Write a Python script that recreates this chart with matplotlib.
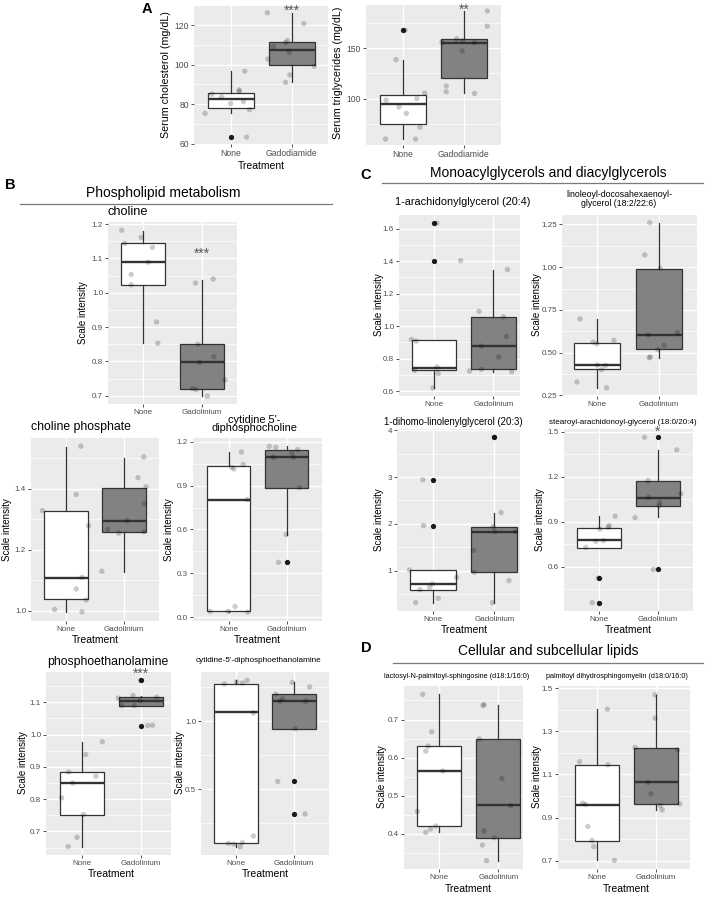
import numpy as np
import matplotlib
matplotlib.use('Agg')
import matplotlib.pyplot as plt
from matplotlib.lines import Line2D

plt.rcParams['font.family'] = ['Liberation Sans', 'DejaVu Sans']

W, H = 706, 900

# ---------------- categories ----------------
groups_a = ['None', 'Gadodiamide']
groups_b = ['None', 'Gadolinium']

# ---------------- A: serum cholesterol ----------------
chol_none_vals = [75.3, 85.0, 83.7, 80.3, 87.2, 86.5, 81.3, 77.2, 96.7, 63.3]
chol_none_jit = [-0.42, -0.31, -0.15, 0.0, 0.14, 0.14, 0.21, 0.31, 0.23, 0.26]
chol_none_box = [75.3, 78.0, 82.5, 85.7, 96.7]
chol_none_out = [63.3]
chol_gado_vals = [126.3, 109.2, 102.8, 111.2, 112.2, 106.2, 94.8, 91.0, 120.8, 99.2]
chol_gado_jit = [-0.40, -0.30, -0.39, -0.10, -0.07, -0.04, -0.03, -0.10, 0.20, 0.37]
chol_gado_box = [91.0, 99.8, 107.5, 111.5, 126.3]
chol_gado_out = []

# ---------------- A: serum triglycerides ----------------
tg_none_vals = [168.2, 138.8, 98.4, 91.6, 85.2, 100.0, 105.4, 71.4, 59.5, 59.5]
tg_none_jit = [0.04, -0.11, -0.27, -0.06, 0.06, 0.23, 0.36, 0.28, -0.28, 0.21]
tg_none_box = [59.5, 74.4, 94.9, 103.4, 138.8]
tg_none_out = [168.2]
tg_gado_vals = [156.1, 112.5, 106.8, 159.7, 157.7, 147.6, 155.7, 105.1, 187.4, 172.2]
tg_gado_jit = [-0.36, -0.29, -0.29, -0.12, -0.02, -0.03, 0.17, 0.17, 0.38, 0.38]
tg_gado_box = [105.1, 120.6, 155.7, 159.4, 187.0]
tg_gado_out = []

# ---------------- B: choline ----------------
cho_none_vals = [1.182, 1.144, 1.161, 1.132, 1.089, 1.053, 1.023, 0.915, 0.853]
cho_none_jit = [-0.36, -0.31, -0.03, 0.16, 0.09, -0.20, -0.20, 0.23, 0.25]
cho_none_box = [0.853, 1.023, 1.089, 1.144, 1.179]
cho_none_out = []
cho_gado_vals = [1.028, 1.040, 0.850, 0.814, 0.797, 0.746, 0.721, 0.718, 0.699]
cho_gado_jit = [-0.11, 0.19, -0.07, 0.20, -0.04, 0.39, -0.16, -0.10, 0.09]
cho_gado_box = [0.699, 0.720, 0.797, 0.850, 1.038]
cho_gado_out = []

# ---------------- B: choline phosphate ----------------
cp_none_vals = [1.329, 1.540, 1.382, 1.279, 1.110, 1.072, 1.036, 1.005, 0.997]
cp_none_jit = [-0.40, 0.26, 0.18, 0.39, 0.28, 0.18, 0.35, -0.19, 0.28]
cp_none_box = [0.997, 1.039, 1.107, 1.329, 1.538]
cp_none_out = []
cp_gado_vals = [1.130, 1.268, 1.255, 1.297, 1.437, 1.505, 1.407, 1.352, 1.260]
cp_gado_jit = [-0.38, -0.28, -0.09, 0.05, 0.24, 0.34, 0.38, 0.35, 0.34]
cp_gado_box = [1.129, 1.260, 1.296, 1.403, 1.502]
cp_gado_out = []

# ---------------- B: cytidine 5'-diphosphocholine ----------------
cdpc_none_vals = [0.039, 0.039, 0.073, 0.034, 1.026, 1.015, 1.131, 1.045, 0.805]
cdpc_none_jit = [-0.32, -0.01, 0.11, 0.33, 0.05, 0.09, 0.22, 0.25, 0.32]
cdpc_none_box = [0.034, 0.039, 0.805, 1.033, 1.131]
cdpc_none_out = []
cdpc_gado_vals = [1.170, 1.163, 1.095, 1.125, 1.095, 1.147, 0.887, 0.565, 0.375]
cdpc_gado_jit = [-0.30, -0.19, -0.23, 0.09, 0.12, 0.19, 0.22, -0.01, -0.14]
cdpc_gado_box = [0.565, 0.887, 1.095, 1.147, 1.170]
cdpc_gado_out = [0.375]

# ---------------- B: phosphoethanolamine ----------------
pe_none_vals = [0.804, 0.884, 0.850, 0.938, 0.871, 0.978, 0.752, 0.682, 0.653]
pe_none_jit = [-0.34, -0.22, -0.15, 0.07, 0.24, 0.35, 0.03, -0.08, -0.23]
pe_none_box = [0.653, 0.752, 0.850, 0.883, 0.976]
pe_none_out = []
pe_gado_vals = [1.090, 1.113, 1.121, 1.090, 1.105, 1.116, 1.028, 1.029, 1.168]
pe_gado_jit = [-0.32, -0.38, -0.13, -0.11, -0.01, 0.27, 0.12, 0.20, 0.0]
pe_gado_box = [1.090, 1.090, 1.105, 1.116, 1.121]
pe_gado_out = [1.168, 1.028]

# ---------------- B: cytidine-5'-diphosphoethanolamine ----------------
cdpe_none_vals = [1.276, 1.283, 1.291, 1.303, 1.062, 0.155, 0.101, 0.096, 0.106, 0.076]
cdpe_none_jit = [-0.20, 0.11, 0.01, 0.19, 0.30, 0.30, -0.13, -0.04, 0.11, 0.07]
cdpe_none_box = [0.076, 0.106, 1.066, 1.276, 1.303]
cdpe_none_out = []
cdpe_gado_vals = [1.202, 1.165, 1.148, 1.288, 1.148, 1.254, 0.946, 0.557, 0.318]
cdpe_gado_jit = [-0.31, -0.20, -0.24, -0.03, 0.20, 0.27, 0.02, -0.28, 0.19]
cdpe_gado_box = [0.943, 0.943, 1.148, 1.202, 1.288]
cdpe_gado_out = [0.557, 0.318]

# ---------------- C: 1-arachidonylglycerol ----------------
ara_none_vals = [0.918, 0.908, 0.728, 0.749, 0.708, 0.620, 1.635, 1.404]
ara_none_jit = [-0.38, -0.30, -0.33, 0.05, 0.07, -0.02, 0.05, 0.45]
ara_none_box = [0.620, 0.728, 0.745, 0.912, 0.918]
ara_none_out = [1.635, 1.404]
ara_gado_vals = [0.724, 0.734, 1.091, 0.877, 0.810, 1.058, 0.936, 1.349, 0.720]
ara_gado_jit = [-0.40, -0.20, -0.24, -0.20, 0.09, 0.17, 0.22, 0.24, 0.31]
ara_gado_box = [0.720, 0.734, 0.877, 1.056, 1.349]
ara_gado_out = []

# ---------------- C: linoleoyl-docosahexaenoyl-glycerol ----------------
lin_none_vals = [0.698, 0.562, 0.552, 0.572, 0.428, 0.425, 0.401, 0.329, 0.295]
lin_none_jit = [-0.28, -0.07, -0.01, 0.27, 0.0, 0.13, 0.07, -0.33, 0.15]
lin_none_box = [0.295, 0.403, 0.428, 0.556, 0.698]
lin_none_out = []
lin_gado_vals = [1.260, 1.072, 0.994, 0.605, 0.519, 0.543, 0.471, 0.475, 0.616]
lin_gado_jit = [-0.15, -0.23, 0.02, -0.17, -0.02, 0.08, -0.16, -0.14, 0.30]
lin_gado_box = [0.471, 0.521, 0.605, 0.992, 1.260]
lin_gado_out = []

# ---------------- C: 1-dihomo-linolenylglycerol ----------------
dih_none_vals = [2.943, 1.964, 1.014, 0.593, 0.643, 0.714, 0.407, 0.857, 0.314]
dih_none_jit = [-0.17, -0.16, -0.39, -0.22, -0.06, -0.02, 0.08, 0.38, -0.29]
dih_none_box = [0.314, 0.593, 0.714, 1.014, 1.014]
dih_none_out = [2.943, 1.964]
dih_gado_vals = [3.857, 2.243, 1.943, 1.836, 1.429, 0.964, 1.836, 0.786, 0.314]
dih_gado_jit = [0.0, 0.11, -0.02, 0.01, -0.34, -0.33, 0.35, 0.24, -0.03]
dih_gado_box = [0.314, 0.964, 1.821, 1.943, 2.229]
dih_gado_out = [3.857]

# ---------------- C: stearoyl-arachidonoyl-glycerol ----------------
sta_none_vals = [0.729, 0.769, 0.773, 0.851, 0.862, 0.873, 0.936, 0.360, 0.524]
sta_none_jit = [-0.23, -0.06, 0.07, 0.01, 0.15, 0.17, 0.27, -0.12, -0.02]
sta_none_box = [0.727, 0.727, 0.780, 0.858, 0.936]
sta_none_out = [0.524, 0.360]
sta_gado_vals = [0.927, 1.462, 1.378, 1.173, 1.063, 1.027, 1.007, 1.087, 0.582]
sta_gado_jit = [-0.39, -0.23, 0.32, -0.17, -0.16, 0.03, 0.02, 0.39, -0.08]
sta_gado_box = [0.929, 1.002, 1.060, 1.173, 1.375]
sta_gado_out = [1.462, 0.582]

# ---------------- D: lactosyl-N-palmitoyl-sphingosine ----------------
lac_none_vals = [0.766, 0.668, 0.630, 0.617, 0.565, 0.459, 0.404, 0.413, 0.421]
lac_none_jit = [-0.28, -0.13, -0.19, -0.23, 0.06, -0.37, -0.23, -0.15, -0.06]
lac_none_box = [0.404, 0.422, 0.565, 0.630, 0.766]
lac_none_out = []
lac_gado_vals = [0.737, 0.739, 0.649, 0.545, 0.474, 0.408, 0.390, 0.371, 0.330]
lac_gado_jit = [-0.26, -0.24, -0.32, 0.06, 0.21, -0.24, -0.07, -0.27, -0.20]
lac_gado_box = [0.330, 0.390, 0.475, 0.649, 0.737]
lac_gado_out = []

# ---------------- D: palmitoyl dihydrosphingomyelin ----------------
pal_none_vals = [1.159, 0.967, 0.961, 0.859, 0.794, 0.766, 1.403, 1.145, 0.702]
pal_none_jit = [-0.29, -0.24, -0.19, -0.15, -0.08, -0.05, 0.18, 0.19, 0.30]
pal_none_box = [0.702, 0.793, 0.959, 1.142, 1.403]
pal_none_out = []
pal_gado_vals = [1.225, 1.469, 1.361, 1.064, 1.010, 0.955, 0.936, 1.214, 0.964]
pal_gado_jit = [-0.35, -0.01, -0.01, -0.13, -0.08, 0.08, 0.11, 0.37, 0.41]
pal_gado_box = [0.936, 0.964, 1.063, 1.222, 1.469]
pal_gado_out = []

# ---------------- figure ----------------
fig = plt.figure(figsize=(W / 100, H / 100), dpi=100)
fig.patch.set_facecolor('white')

BOX_EDGE = '#333333'
GADO_FILL = '#828282'


def ftext(x, y, s, **kw):
    fig.text(x / W, 1 - y / H, s, **kw)


def fline(x0, x1, y):
    fig.add_artist(Line2D([x0 / W, x1 / W], [1 - y / H, 1 - y / H],
                          color='#7a7a7a', lw=0.9))


def panel(rect, centers, ylim, yticks, yticklabels, groups, none, gado,
          tick_size=5.8, sig=None, sig_y=None, sig_size=10):
    L, T, R, B = rect
    cN, cG = centers
    ax = fig.add_axes([L / W, 1 - B / H, (R - L) / W, (B - T) / H])
    u = cG - cN
    ax.set_facecolor('#EBEBEB')
    for sp in ax.spines.values():
        sp.set_visible(False)
    step = yticks[1] - yticks[0]
    minors = np.arange(yticks[0] - step / 2, yticks[-1] + step, step)
    ax.set_yticks(yticks)
    ax.set_yticklabels(yticklabels)
    ax.set_yticks(minors, minor=True)
    ax.set_xticks([1, 2])
    ax.set_xticklabels(groups)
    ax.grid(which='major', color='white', lw=1.0)
    ax.grid(which='minor', axis='y', color='white', lw=0.5)
    ax.set_axisbelow(True)
    ax.tick_params(which='major', length=2.0, width=0.6, color='#333333',
                   labelsize=tick_size, labelcolor='#4D4D4D', pad=1.5)
    ax.tick_params(which='minor', length=0)
    for pos, (vals, jit, box, out), fill in ((1, none, 'white'), (2, gado, GADO_FILL)):
        stats = [dict(whislo=box[0], q1=box[1], med=box[2], q3=box[3],
                      whishi=box[4], fliers=out)]
        ax.bxp(stats, positions=[pos], widths=0.75, patch_artist=True,
               showcaps=False, manage_ticks=False, zorder=2,
               boxprops=dict(facecolor=fill, edgecolor=BOX_EDGE, lw=0.9),
               medianprops=dict(color=BOX_EDGE, lw=1.7),
               whiskerprops=dict(color=BOX_EDGE, lw=0.9),
               flierprops=dict(marker='o', markerfacecolor='#1a1a1a',
                               markeredgecolor='none', markersize=3.8))
        ax.scatter(pos + np.array(jit), vals, s=15, color='black', alpha=0.2,
                   edgecolors='none', zorder=3)
    # limits last, so that tick setting cannot widen them
    ax.set_xlim(1 - (cN - L) / u, 2 + (R - cG) / u)
    ax.set_ylim(*ylim)
    if sig:
        ax.text(2, sig_y, sig, ha='center', va='center', fontsize=sig_size,
                color='#595959', clip_on=False, zorder=5)
    return ax


# ---- A ----
panel((194, 6, 328, 144), (230.7, 291.7), (59.8, 129.7), [60, 80, 100, 120],
      ['60', '80', '100', '120'], groups_a,
      (chol_none_vals, chol_none_jit, chol_none_box, chol_none_out),
      (chol_gado_vals, chol_gado_jit, chol_gado_box, chol_gado_out),
      tick_size=6.2, sig='***', sig_y=127.5)
panel((366, 5, 501, 145), (402.7, 464.0), (53.6, 193.4), [100, 150],
      ['100', '150'], groups_a,
      (tg_none_vals, tg_none_jit, tg_none_box, tg_none_out),
      (tg_gado_vals, tg_gado_jit, tg_gado_box, tg_gado_out),
      tick_size=6.2, sig='**', sig_y=189)

# ---- B ----
panel((108, 222, 237, 404), (143, 202), (0.676, 1.206),
      [0.7, 0.8, 0.9, 1.0, 1.1, 1.2], ['0.7', '0.8', '0.9', '1.0', '1.1', '1.2'],
      groups_b,
      (cho_none_vals, cho_none_jit, cho_none_box, cho_none_out),
      (cho_gado_vals, cho_gado_jit, cho_gado_box, cho_gado_out),
      sig='***', sig_y=1.112)
panel((31, 438, 159, 621), (65.7, 124), (0.967, 1.567), [1.0, 1.2, 1.4],
      ['1.0', '1.2', '1.4'], groups_b,
      (cp_none_vals, cp_none_jit, cp_none_box, cp_none_out),
      (cp_gado_vals, cp_gado_jit, cp_gado_box, cp_gado_out))
panel((193, 438, 322, 621), (228.7, 286.7), (-0.027, 1.227),
      [0.0, 0.3, 0.6, 0.9, 1.2], ['0.0', '0.3', '0.6', '0.9', '1.2'], groups_b,
      (cdpc_none_vals, cdpc_none_jit, cdpc_none_box, cdpc_none_out),
      (cdpc_gado_vals, cdpc_gado_jit, cdpc_gado_box, cdpc_gado_out))
panel((46, 672, 171, 855), (81.7, 140.7), (0.627, 1.194),
      [0.7, 0.8, 0.9, 1.0, 1.1], ['0.7', '0.8', '0.9', '1.0', '1.1'], groups_b,
      (pe_none_vals, pe_none_jit, pe_none_box, pe_none_out),
      (pe_gado_vals, pe_gado_jit, pe_gado_box, pe_gado_out),
      sig='***', sig_y=1.188)
panel((201, 672, 329, 855), (236, 294), (0.015, 1.364), [0.5, 1.0],
      ['0.5', '1.0'], groups_b,
      (cdpe_none_vals, cdpe_none_jit, cdpe_none_box, cdpe_none_out),
      (cdpe_gado_vals, cdpe_gado_jit, cdpe_gado_box, cdpe_gado_out))

# ---- C ----
panel((399, 215, 520, 396), (434, 493.3), (0.57, 1.685),
      [0.6, 0.8, 1.0, 1.2, 1.4, 1.6], ['0.6', '0.8', '1.0', '1.2', '1.4', '1.6'],
      groups_b,
      (ara_none_vals, ara_none_jit, ara_none_box, ara_none_out),
      (ara_gado_vals, ara_gado_jit, ara_gado_box, ara_gado_out))
panel((562, 215, 697, 396), (597.3, 659), (0.247, 1.305),
      [0.25, 0.5, 0.75, 1.0, 1.25], ['0.25', '0.50', '0.75', '1.00', '1.25'],
      groups_b,
      (lin_none_vals, lin_none_jit, lin_none_box, lin_none_out),
      (lin_gado_vals, lin_gado_jit, lin_gado_box, lin_gado_out))
panel((397, 429, 520, 611), (433.3, 494.3), (0.135, 4.03), [1, 2, 3, 4],
      ['1', '2', '3', '4'], groups_b,
      (dih_none_vals, dih_none_jit, dih_none_box, dih_none_out),
      (dih_gado_vals, dih_gado_jit, dih_gado_box, dih_gado_out))
panel((564, 429, 693, 611), (599.3, 658), (0.305, 1.517),
      [0.6, 0.9, 1.2, 1.5], ['0.6', '0.9', '1.2', '1.5'], groups_b,
      (sta_none_vals, sta_none_jit, sta_none_box, sta_none_out),
      (sta_gado_vals, sta_gado_jit, sta_gado_box, sta_gado_out),
      sig='*', sig_y=1.50, sig_size=10)

# ---- D ----
panel((404, 686, 523, 869), (439.3, 498.3), (0.308, 0.788),
      [0.4, 0.5, 0.6, 0.7], ['0.4', '0.5', '0.6', '0.7'], groups_b,
      (lac_none_vals, lac_none_jit, lac_none_box, lac_none_out),
      (lac_gado_vals, lac_gado_jit, lac_gado_box, lac_gado_out))
panel((558, 686, 690, 869), (596.7, 655.7), (0.662, 1.51),
      [0.7, 0.9, 1.1, 1.3, 1.5], ['0.7', '0.9', '1.1', '1.3', '1.5'], groups_b,
      (pal_none_vals, pal_none_jit, pal_none_box, pal_none_out),
      (pal_gado_vals, pal_gado_jit, pal_gado_box, pal_gado_out))

# ---------------- texts ----------------
# panel letters
for s, x, y in (('A', 147, 9), ('B', 10, 185), ('C', 366, 175), ('D', 366, 648)):
    ftext(x, y, s, ha='center', va='center', fontsize=10.5, fontweight='bold')

# section headers
ftext(163, 193, 'Phospholipid metabolism', ha='center', va='center', fontsize=10)
fline(20, 332, 204)
ftext(548, 173, 'Monoacylglycerols and diacylglycerols', ha='center', va='center', fontsize=10)
fline(382, 703, 183)
ftext(548, 651, 'Cellular and subcellular lipids', ha='center', va='center', fontsize=10)
fline(393, 703, 663)

# plot titles
ftext(108, 212, 'choline', ha='left', va='center', fontsize=9.2)
ftext(31, 427, 'choline phosphate', ha='left', va='center', fontsize=8.8)
ftext(254, 424, "cytidine 5'-\ndiphosphocholine", ha='center', va='center',
      fontsize=7.9, linespacing=0.85)
ftext(47, 662, 'phosphoethanolamine', ha='left', va='center', fontsize=8.8)
ftext(258, 660, "cytidine-5'-diphosphoethanolamine", ha='center', va='center', fontsize=5.85)
ftext(395, 202, '1-arachidonylglycerol (20:4)', ha='left', va='center', fontsize=7.8)
ftext(619, 199, 'linoleoyl-docosahexaenoyl-\nglycerol (18:2/22:6)', ha='center',
      va='center', fontsize=6.3, linespacing=1.05)
ftext(453, 422, '1-dihomo-linolenylglycerol (20:3)', ha='center', va='center', fontsize=6.9)
ftext(623, 422, 'stearoyl-arachidonoyl-glycerol (18:0/20:4)', ha='center', va='center', fontsize=5.75)
ftext(457, 677, 'lactosyl-N-palmitoyl-sphingosine (d18:1/16:0)', ha='center', va='center', fontsize=5.2)
ftext(617, 677, 'palmitoyl dihydrosphingomyelin (d18:0/16:0)', ha='center', va='center', fontsize=5.2)

# y axis titles
ftext(166, 75, 'Serum cholesterol (mg/dL)', rotation=90, ha='center', va='center', fontsize=7.7)
ftext(338, 73, 'Serum triglycerides (mg/dL)', rotation=90, ha='center', va='center', fontsize=7.7)
for x, y in ((83, 313), (7, 530), (169, 530), (23, 763), (180, 763),
             (379, 305), (537, 305), (379, 520), (540, 520), (382, 777), (537, 777)):
    ftext(x, y, 'Scale intensity', rotation=90, ha='center', va='center', fontsize=7.0)

# x axis titles
for x, y in ((261, 166), (95, 640), (257, 640), (111, 874), (265, 874),
             (464, 630), (628, 630), (468, 889), (626, 889)):
    ftext(x, y, 'Treatment', ha='center', va='center', fontsize=7.5)

fig.savefig('out.png', dpi=100, facecolor='white')
